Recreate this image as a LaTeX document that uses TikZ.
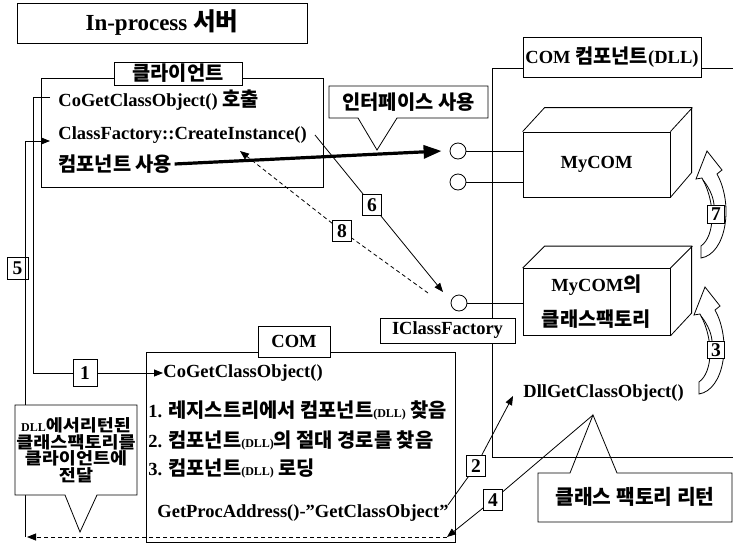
\documentclass[tikz,border=0pt]{standalone}
\usepackage{fontspec}
\setmainfont{Liberation Serif}
\newfontfamily\kr{Noto Sans CJK KR}[Scale=1.07]
\newfontfamily\krw{Noto Sans CJK KR}[Scale=1.0,FakeStretch=1.12]
\usetikzlibrary{arrows.meta}
\newcommand\dllsmall{{\fontsize{12}{12}\selectfont(DLL)}}
\begin{document}
\begin{tikzpicture}[x=1pt,y=-1pt, line width=0.8pt,
  bigfont/.style={font=\bfseries\fontsize{18.5}{22}\selectfont},
  lbl/.style={draw, fill=white, inner sep=0pt, bigfont},
  num/.style={draw, fill=white, minimum width=19pt, minimum height=21pt, inner sep=0pt, font=\bfseries\fontsize{19.5}{19.5}\selectfont},
  txt/.style={inner sep=0pt, anchor=west, bigfont},
  arr/.style={-{Triangle[length=9pt,width=7pt]}},
  ifc/.style={circle, draw, fill=white, minimum size=16pt, inner sep=0pt},
  dsh/.style={dash pattern=on 4pt off 3pt},
  curvearrow/.pic={
    \draw (701,246) -- (701,258) .. controls (726,254) and (734,205) .. (717,174)
      -- (722,170) -- (707,151) -- (696,179) -- (702,178)
      .. controls (716,203) and (715,236) .. (701,246) -- cycle;
    \draw (703,180) .. controls (711,190) and (714,200) .. (714,206);
  },
]
\useasboundingbox (0,0) rectangle (733,546);

% title
\node[draw, line width=1pt, minimum width=290pt, minimum height=40pt, inner sep=0pt,
  font=\bfseries\fontsize{23}{26}\selectfont] (title) at (162,23) {In-process {\kr 서버}};

% COM component region
\draw (733,68) -- (492,68) -- (492,457) -- (733,457);
\node[lbl, minimum width=178pt, minimum height=40pt] (comdll) at (612,57) {COM {\kr 컴포넌트}(DLL)};

% client box
\node[draw, minimum width=282pt, minimum height=109pt] (client) at (182,132.5) {};
\node[lbl, minimum width=128pt, minimum height=23pt] (cl) at (178,73.5) {\kr 클라이언트};
\node[txt] (t1) at (58,100) {CoGetClassObject() {\kr 호출}};
\node[txt] (t2) at (58,135) {ClassFactory::CreateInstance()};
\node[txt] (t3) at (58,164) {\kr 컴포넌트 사용};

% interface callout
\draw[fill=white] (329,86) -- (488,86) -- (488,118) -- (397,118) -- (377,150) -- (358,118) -- (329,118) -- cycle;
\node[inner sep=0pt, bigfont] (ifu) at (408.5,102) {\kr 인터페이스 사용};

% MyCOM box
\node[draw, fill=white, minimum width=147pt, minimum height=65pt, inner sep=0pt, bigfont] (mycom) at (596.5,164.5) {MyCOM};
\draw (mycom.north west) -- ++(22,-24) -- ++(147,0) -- ++(0,65) -- (mycom.south east);
\draw (mycom.north east) -- ++(22,-24);

% factory box
\node[draw, fill=white, minimum width=147pt, minimum height=67pt, inner sep=0pt, align=center,
  font=\bfseries\fontsize{18.5}{35}\selectfont] (fac) at (596.5,302) {MyCOM{\kr 의}\\{\kr 클래스팩토리}};
\draw (fac.north west) -- ++(22,-22) -- ++(147,0) -- ++(0,67) -- (fac.south east);
\draw (fac.north east) -- ++(22,-22);

% interface circles
\node[ifc] (c1) at (458,151) {};
\node[ifc] (c2) at (458,182) {};
\node[ifc] (c3) at (459,303) {};
\draw (c1.east) -- (c1.east -| mycom.west);
\draw (c2.east) -- (c2.east -| mycom.west);
\draw (c3.east) -- (c3.east -| fac.west);
\node[lbl, minimum width=135pt, minimum height=25pt] (icf) at (447.5,330.5) {IClassFactory};

% thick arrow
\draw[line width=3.2pt, -{Triangle[length=18pt,width=13pt]}] ([xshift=2pt]t3.east) -- ([xshift=-8pt]c1.west);

% arrow 6
\coordinate (s6) at (315,135);
\node[num] (n6) at (372,205) {6};
\draw (s6) -- (n6);
\draw[arr] (n6) -- (443,292) coordinate (e6);

% arrow 8 dashed
\coordinate (s8) at (428,293);
\coordinate (e8) at (240,151);
\node[num] (n8) at (342,231) {8};
\draw[dsh] (s8) -- (n8);
\draw[dsh, arr] (n8) -- (e8);

% COM box
\node[draw, minimum width=309pt, minimum height=190pt] (com) at (300.5,447) {};
\node[lbl, minimum width=72pt, minimum height=31pt] (comlbl) at (294,341.5) {COM};
\node[txt] (c0) at (163,373) {CoGetClassObject()};
\node[txt] (cs1) at (148,410) {1. {\kr 레지스트리에서 컴포넌트}\dllsmall{} {\kr 찾음}};
\node[txt] (cs2) at (148,440) {2. {\kr 컴포넌트}\dllsmall{\kr 의 절대 경로를 찾음}};
\node[txt] (cs3) at (148,468) {3. {\kr 컴포넌트}\dllsmall{} {\kr 로딩}};
\node[txt] (gpa) at (157,513) {GetProcAddress()-”GetClassObject”};

% left connectors
\coordinate (s1) at (50,97);
\node[num, minimum width=24pt, minimum height=27pt] (n1) at (85,373) {1};
\draw (s1) -- (33,97) |- (n1);
\draw[arr] (n1) -- (c0.west);

\coordinate (dend) at (25,537);
\coordinate (cin) at (50,141);
\draw[arr] (dend) |- (cin);
\node[draw, minimum width=21pt, minimum height=22pt, inner sep=0pt, font=\bfseries\fontsize{19.5}{19.5}\selectfont] (n5) at (17.5,268) {5};

% DLL callout
\draw[fill=white] (15,405) -- (137,405) -- (137,495) -- (97,495) -- (80,532) -- (65,495) -- (15,495) -- cycle;
\node[inner sep=0pt, align=center, font=\bfseries\fontsize{16.5}{16.5}\selectfont] (dllc) at (76,450)
  {{\fontsize{12}{12}\selectfont DLL}{\krw 에서리턴된}\\{\krw 클래스팩토리를}\\{\krw 클라이언트에}\\{\krw 전달}};

% dashed return arrow
\coordinate (d4) at (447,537);
\draw[dsh, arr] (d4) -- ([xshift=2pt]dend);

% DllGetClassObject
\node[txt] (dll) at (523,393) {DllGetClassObject()};

% return callout
\draw (570,473) -- (538,473) -- (538,522) -- (732,522) -- (732,473) -- (617,473) -- (593,415) -- cycle;
\node[inner sep=0pt, font=\bfseries\fontsize{19}{22}\selectfont] (ret) at (635,497) {\kr 클래스 팩토리 리턴};
\coordinate (ctip) at (593,415);

% arrow 2
\coordinate (s2) at (448,505);
\coordinate (e2) at (513,396);
\node[num] (n2) at (476,466) {2};
\draw (s2) -- (n2);
\draw[arr] (n2) -- (e2);

% arrow 4
\node[num] (n4) at (493,500) {4};
\draw (ctip) -- (n4);
\draw[arr] (n4) -- (d4);

% curved arrows
\pic at (0,0) {curvearrow};
\pic at (-2,136) {curvearrow};
\node[num, minimum width=17pt, minimum height=18pt] (n7) at (716,214) {7};
\node[num, minimum width=17pt, minimum height=17pt] (n3) at (716,350) {3};
\end{tikzpicture}
\end{document}
